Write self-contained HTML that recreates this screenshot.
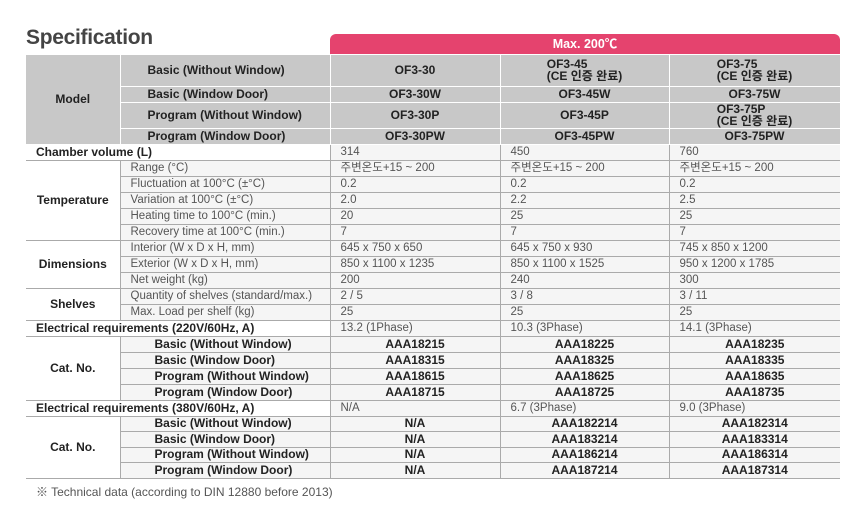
<!DOCTYPE html>
<html><head><meta charset="utf-8"><style>
body{margin:0;width:867px;height:511px;background:#fff;overflow:hidden;font-family:"Liberation Sans","Noto Sans CJK KR",sans-serif;}
h1{position:absolute;left:26px;top:26px;margin:0;font-size:21px;font-weight:bold;color:#444;letter-spacing:-0.3px}
.pink{position:absolute;left:330px;top:34px;width:510px;height:20px;background:#e5436e;border-radius:6px 6px 0 0;color:#fff;font-weight:bold;font-size:12.5px;text-align:center;line-height:21px}
table{position:absolute;left:26px;top:55px;border-collapse:collapse;table-layout:fixed;width:814px}
td{padding:0;font-size:11.5px;line-height:13px;overflow:hidden;white-space:nowrap}
td.h{background:#c8c8c8;border:1px solid #fff;border-top:none;font-weight:bold;color:#222;font-size:12px}
td.b{background:#f5f5f5;border:1px solid #aaa;color:#555;padding-left:10px}
td.l{font-weight:bold;color:#222;font-size:12px}
td.c{text-align:center;padding-left:0}
.blk{display:inline-block;text-align:left;line-height:12px}
tr.r{height:16px}
tr.s{height:15.5px}
</style></head><body>
<h1>Specification</h1>
<div class="pink">Max. 200℃</div>
<table>
<colgroup><col style="width:94px"><col style="width:210px"><col style="width:170px"><col style="width:169px"><col style="width:171px"></colgroup>
<tr style="height:31px"><td class="h c" rowspan="4" style="border-left:none">Model</td><td class="h" style="padding-left:27px">Basic (Without Window)</td><td class="h c">OF3-30</td><td class="h c"><span class="blk">OF3-45<br>(CE 인증 완료)</span></td><td class="h c"><span class="blk">OF3-75<br>(CE 인증 완료)</span></td></tr>
<tr style="height:16px"><td class="h" style="padding-left:27px">Basic (Window Door)</td><td class="h c">OF3-30W</td><td class="h c">OF3-45W</td><td class="h c">OF3-75W</td></tr>
<tr style="height:25px"><td class="h" style="padding-left:27px">Program (Without Window)</td><td class="h c">OF3-30P</td><td class="h c">OF3-45P</td><td class="h c"><span class="blk">OF3-75P<br>(CE 인증 완료)</span></td></tr>
<tr style="height:16px"><td class="h" style="padding-left:27px">Program (Window Door)</td><td class="h c">OF3-30PW</td><td class="h c">OF3-45PW</td><td class="h c">OF3-75PW</td></tr>
<tr class="r"><td class="b l" colspan="2" style="border-left:none;background:#fff;padding-left:10px">Chamber volume (L)</td><td class="b">314</td><td class="b">450</td><td class="b" style="border-right:none">760</td></tr>
<tr class="r"><td class="b l c" rowspan="5" style="border-left:none;background:#fff;padding:0">Temperature</td><td class="b">Range (°C)</td><td class="b">주변온도+15 ~ 200</td><td class="b">주변온도+15 ~ 200</td><td class="b" style="border-right:none">주변온도+15 ~ 200</td></tr>
<tr class="r"><td class="b">Fluctuation at 100°C (±°C)</td><td class="b">0.2</td><td class="b">0.2</td><td class="b" style="border-right:none">0.2</td></tr>
<tr class="r"><td class="b">Variation at 100°C (±°C)</td><td class="b">2.0</td><td class="b">2.2</td><td class="b" style="border-right:none">2.5</td></tr>
<tr class="r"><td class="b">Heating time to 100°C (min.)</td><td class="b">20</td><td class="b">25</td><td class="b" style="border-right:none">25</td></tr>
<tr class="r"><td class="b">Recovery time at 100°C (min.)</td><td class="b">7</td><td class="b">7</td><td class="b" style="border-right:none">7</td></tr>
<tr class="r"><td class="b l c" rowspan="3" style="border-left:none;background:#fff;padding:0">Dimensions</td><td class="b">Interior (W x D x H, mm)</td><td class="b">645 x 750 x 650</td><td class="b">645 x 750 x 930</td><td class="b" style="border-right:none">745 x 850 x 1200</td></tr>
<tr class="r"><td class="b">Exterior (W x D x H, mm)</td><td class="b">850 x 1100 x 1235</td><td class="b">850 x 1100 x 1525</td><td class="b" style="border-right:none">950 x 1200 x 1785</td></tr>
<tr class="r"><td class="b">Net weight (kg)</td><td class="b">200</td><td class="b">240</td><td class="b" style="border-right:none">300</td></tr>
<tr class="r"><td class="b l c" rowspan="2" style="border-left:none;background:#fff;padding:0">Shelves</td><td class="b">Quantity of shelves (standard/max.)</td><td class="b">2 / 5</td><td class="b">3 / 8</td><td class="b" style="border-right:none">3 / 11</td></tr>
<tr class="r"><td class="b">Max. Load per shelf (kg)</td><td class="b">25</td><td class="b">25</td><td class="b" style="border-right:none">25</td></tr>
<tr class="r"><td class="b l" colspan="2" style="border-left:none;background:#fff;padding-left:10px">Electrical requirements (220V/60Hz, A)</td><td class="b">13.2 (1Phase)</td><td class="b">10.3 (3Phase)</td><td class="b" style="border-right:none">14.1 (3Phase)</td></tr>
<tr class="r"><td class="b l c" rowspan="4" style="border-left:none;background:#fff;padding:0">Cat. No.</td><td class="b l" style="padding-left:34px">Basic (Without Window)</td><td class="b l c">AAA18215</td><td class="b l c">AAA18225</td><td class="b l c" style="border-right:none">AAA18235</td></tr>
<tr class="r"><td class="b l" style="padding-left:34px">Basic (Window Door)</td><td class="b l c">AAA18315</td><td class="b l c">AAA18325</td><td class="b l c" style="border-right:none">AAA18335</td></tr>
<tr class="r"><td class="b l" style="padding-left:34px">Program (Without Window)</td><td class="b l c">AAA18615</td><td class="b l c">AAA18625</td><td class="b l c" style="border-right:none">AAA18635</td></tr>
<tr class="r"><td class="b l" style="padding-left:34px">Program (Window Door)</td><td class="b l c">AAA18715</td><td class="b l c">AAA18725</td><td class="b l c" style="border-right:none">AAA18735</td></tr>
<tr class="r"><td class="b l" colspan="2" style="border-left:none;background:#fff;padding-left:10px">Electrical requirements (380V/60Hz, A)</td><td class="b">N/A</td><td class="b">6.7 (3Phase)</td><td class="b" style="border-right:none">9.0 (3Phase)</td></tr>
<tr class="s"><td class="b l c" rowspan="4" style="border-left:none;background:#fff;padding:0">Cat. No.</td><td class="b l" style="padding-left:34px">Basic (Without Window)</td><td class="b l c">N/A</td><td class="b l c">AAA182214</td><td class="b l c" style="border-right:none">AAA182314</td></tr>
<tr class="s"><td class="b l" style="padding-left:34px">Basic (Window Door)</td><td class="b l c">N/A</td><td class="b l c">AAA183214</td><td class="b l c" style="border-right:none">AAA183314</td></tr>
<tr class="s"><td class="b l" style="padding-left:34px">Program (Without Window)</td><td class="b l c">N/A</td><td class="b l c">AAA186214</td><td class="b l c" style="border-right:none">AAA186314</td></tr>
<tr class="s"><td class="b l" style="padding-left:34px">Program (Window Door)</td><td class="b l c">N/A</td><td class="b l c">AAA187214</td><td class="b l c" style="border-right:none">AAA187314</td></tr>
</table>
<div style="position:absolute;left:36px;top:483px;font-size:12px;color:#555">※ Technical data (according to DIN 12880 before 2013)</div>
</body></html>
